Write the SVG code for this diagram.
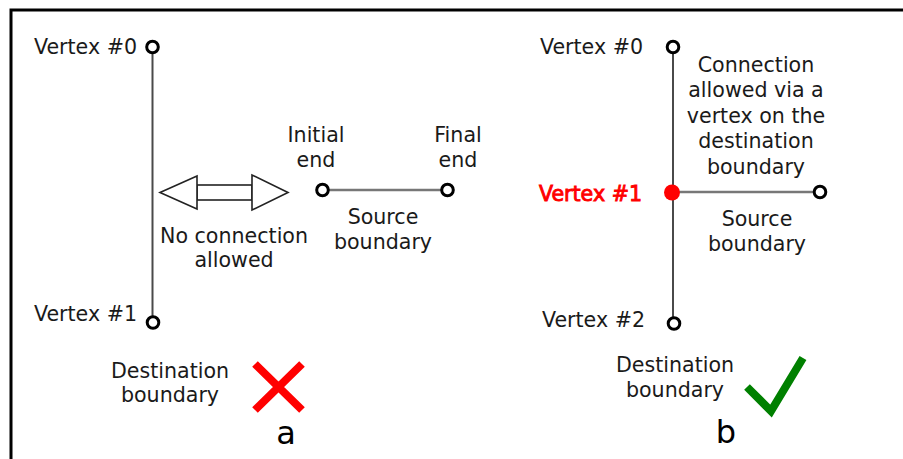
<svg xmlns="http://www.w3.org/2000/svg" width="903" height="459" viewBox="0 0 903 459">
<style>
text{font-family:"DejaVu Sans","Liberation Sans",sans-serif;font-size:20.6px;fill:#1a1a1a}
.m{text-anchor:middle}
.e{text-anchor:end}
.big{font-size:32px;fill:#000}
.v{fill:#fff;stroke:#000;stroke-width:3}
.vl{stroke:#4a4a4a;stroke-width:2;fill:none}
.hl{stroke:#777;stroke-width:2.5;fill:none}
.ar{fill:#fff;stroke:#222;stroke-width:1.6;stroke-linejoin:miter}
</style>
<rect width="903" height="459" fill="#fff"/>
<path d="M11,459 V10 H903" fill="none" stroke="#000" stroke-width="3"/>
<g id="connectors">
<line class="vl" x1="152.5" y1="47" x2="152.5" y2="322"/>
<line class="hl" x1="322" y1="190" x2="448" y2="190"/>
<line class="vl" x1="673" y1="47" x2="673" y2="323"/>
<line class="hl" x1="673" y1="192" x2="820" y2="192"/>
</g>
<g id="a-dest-boundary">
<circle class="v" cx="152.5" cy="47" r="5.8"/>
<circle class="v" cx="153" cy="322.5" r="5.8"/>
<text class="e" x="137" y="54">Vertex #0</text>
<text class="e" x="137" y="321">Vertex #1</text>
<text class="m" x="170" y="378">Destination</text>
<text class="m" x="170" y="402">boundary</text>
</g>
<g id="a-arrow">
<rect class="ar" x="197" y="185" width="55" height="15"/>
<polygon class="ar" points="160,192.5 197,176 197,209"/>
<polygon class="ar" points="288,192.5 252,175 252,210"/>
<text class="m" x="234" y="243">No connection</text>
<text class="m" x="234" y="267">allowed</text>
</g>
<g id="a-source-boundary">
<circle class="v" cx="322.5" cy="190" r="5.8"/>
<circle class="v" cx="447.5" cy="190" r="5.8"/>
<text class="m" x="316" y="142">Initial</text>
<text class="m" x="316" y="167">end</text>
<text class="m" x="458" y="142">Final</text>
<text class="m" x="458" y="167">end</text>
<text class="m" x="383" y="223.5">Source</text>
<text class="m" x="383" y="248.5">boundary</text>
</g>
<g id="a-mark">
<path d="M255,364 L302,410 M302,364 L255,410" stroke="#f00" stroke-width="8" fill="none"/>
<text class="m big" x="286" y="444">a</text>
</g>
<g id="b-dest-boundary">
<circle class="v" cx="673" cy="47" r="5.8"/>
<circle class="v" cx="674" cy="323.5" r="5.8"/>
<text class="e" x="643" y="54">Vertex #0</text>
<text class="e" x="645" y="327">Vertex #2</text>
<text class="m" x="675" y="372">Destination</text>
<text class="m" x="675" y="397">boundary</text>
</g>
<g id="b-vertex1">
<circle cx="672" cy="192.5" r="8" fill="#f00"/>
<text class="e" x="642" y="201" style="fill:#f00;stroke:#f00;stroke-width:0.9">Vertex #1</text>
</g>
<g id="b-source-boundary">
<circle class="v" cx="820" cy="192" r="5.8"/>
<text class="m" x="757" y="226">Source</text>
<text class="m" x="757" y="251">boundary</text>
<text class="m" x="756" y="72">Connection</text>
<text class="m" x="756" y="97.3">allowed via a</text>
<text class="m" x="756" y="123">vertex on the</text>
<text class="m" x="756" y="148.3">destination</text>
<text class="m" x="756" y="173.5">boundary</text>
</g>
<g id="b-mark">
<path d="M747,387 L771,411 L803,358" stroke="#008000" stroke-width="8" fill="none" stroke-linejoin="miter"/>
<text class="m big" x="726" y="443">b</text>
</g>
</svg>
